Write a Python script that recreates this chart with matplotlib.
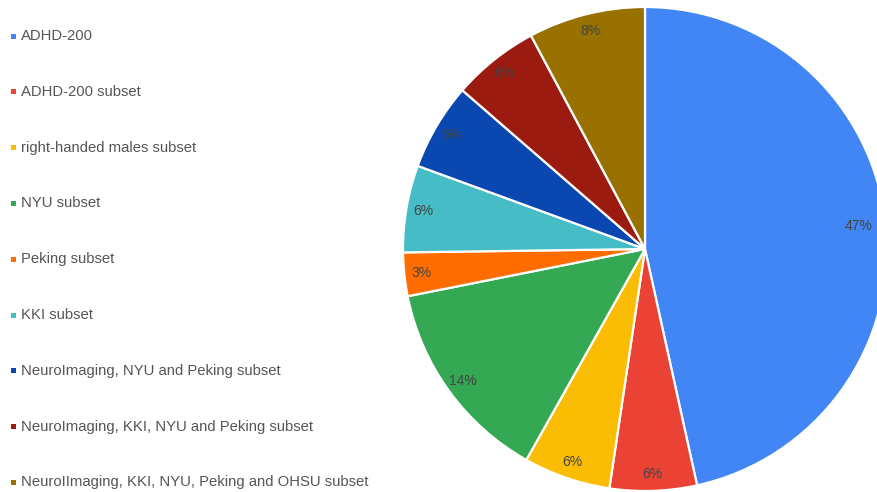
import matplotlib

matplotlib.use("Agg")
import matplotlib.pyplot as plt
from matplotlib.patches import Rectangle

plt.rcParams["font.family"] = ["Liberation Sans", "DejaVu Sans"]

LABELS = [
    "ADHD-200",
    "ADHD-200 subset",
    "right-handed males subset",
    "NYU subset",
    "Peking subset",
    "KKI subset",
    "NeuroImaging, NYU and Peking subset",
    "NeuroImaging, KKI, NYU and Peking subset",
    "NeuroIImaging, KKI, NYU, Peking and OHSU subset",
]
SHARES = [46.5, 5.8, 5.8, 13.7, 2.9, 5.8, 5.8, 5.8, 7.8]
COLORS = ["#4285f4", "#ea4335", "#fbbc04", "#34a853", "#ff6d01",
          "#46bdc6", "#0b47b0", "#9c1b11", "#987100"]

W, H = 877, 492
fig = plt.figure(figsize=(W / 100, H / 100), dpi=100)
ax = fig.add_axes([0, 0, 1, 1])
ax.axis("off")

wedges, _, pcts = ax.pie(
    SHARES, colors=COLORS, startangle=90, counterclock=False,
    center=(645, H - 249), radius=242, autopct="%.0f%%", pctdistance=0.93,
    wedgeprops=dict(edgecolor="white", linewidth=1.6),
    textprops=dict(color="#444444", fontsize=10),
)
ax.set_xlim(0, W)
ax.set_ylim(0, H)

# pull the big slice's label back inside the visible area
x0, y0 = 645, H - 249
px, py = pcts[0].get_position()
pcts[0].set_position((x0 + (px - x0) * 0.955, y0 + (py - y0) * 0.955))

# hand-laid legend down the left edge
for i, (lab, col) in enumerate(zip(LABELS, COLORS)):
    y = H - (36 + i * 55.8)
    ax.add_patch(Rectangle((11, y - 2.5), 5, 5, color=col, lw=0))
    ax.text(21, y, lab, fontsize=10.75, color="#555555", va="center", ha="left")

fig.savefig("out.png", dpi=100)
